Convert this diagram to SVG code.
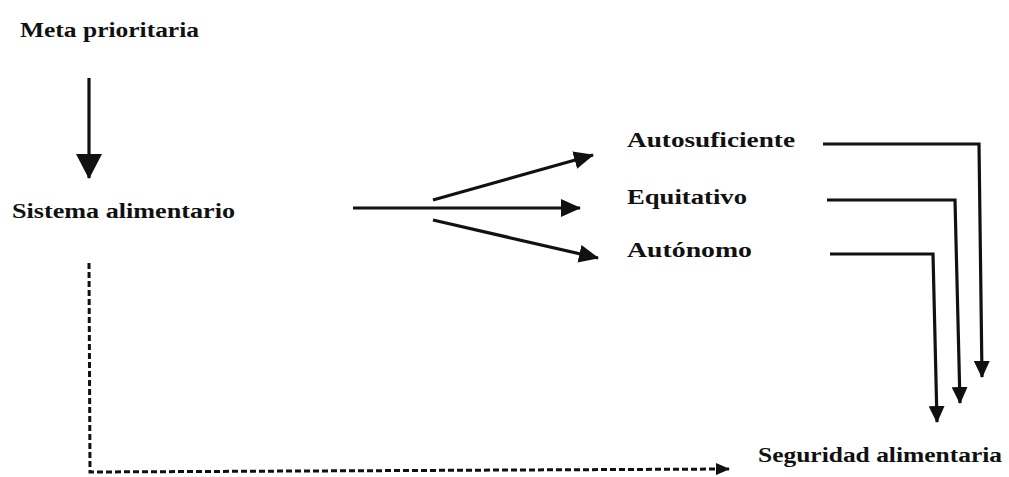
<svg xmlns="http://www.w3.org/2000/svg" width="1009" height="477" viewBox="0 0 1009 477">
  <style>
    .lbl { font-family: "Liberation Serif", "Times New Roman", serif; font-size: 20px; font-weight: bold; fill: #111; }
    .ln { fill: none; stroke: #111; stroke-width: 3.2; }
    .dash { fill: none; stroke: #111; stroke-width: 3; stroke-dasharray: 6 3; }
  </style>
  <defs>
    <marker id="headBig" markerUnits="userSpaceOnUse" viewBox="0 0 25 26" markerWidth="25" markerHeight="26" refX="24" refY="13" orient="auto">
      <path d="M0,0 L25,13 L0,26 Z" fill="#111"/>
    </marker>
    <marker id="headMid" markerUnits="userSpaceOnUse" viewBox="0 0 20 18" markerWidth="20" markerHeight="18" refX="19" refY="9" orient="auto">
      <path d="M0,0 L20,9 L0,18 Z" fill="#111"/>
    </marker>
    <marker id="headSm" markerUnits="userSpaceOnUse" viewBox="0 0 17 16" markerWidth="17" markerHeight="16" refX="16" refY="8" orient="auto">
      <path d="M0,0 L17,8 L0,16 Z" fill="#111"/>
    </marker>
    <marker id="headDash" markerUnits="userSpaceOnUse" viewBox="0 0 14 12" markerWidth="14" markerHeight="12" refX="13" refY="6" orient="auto">
      <path d="M0,0 L14,6 L0,12 Z" fill="#111"/>
    </marker>
  </defs>

  <g id="node-meta">
    <text class="lbl" x="20" y="37" textLength="179" lengthAdjust="spacingAndGlyphs">Meta prioritaria</text>
  </g>
  <g id="node-sistema">
    <text class="lbl" x="12" y="218" textLength="223" lengthAdjust="spacingAndGlyphs">Sistema alimentario</text>
  </g>
  <g id="node-autosuficiente">
    <text class="lbl" x="627" y="147" textLength="168" lengthAdjust="spacingAndGlyphs">Autosuficiente</text>
  </g>
  <g id="node-equitativo">
    <text class="lbl" x="627" y="204" textLength="120" lengthAdjust="spacingAndGlyphs">Equitativo</text>
  </g>
  <g id="node-autonomo">
    <text class="lbl" x="627" y="257" textLength="125" lengthAdjust="spacingAndGlyphs">Autónomo</text>
  </g>
  <g id="node-seguridad">
    <text class="lbl" x="758" y="462" textLength="244" lengthAdjust="spacingAndGlyphs">Seguridad alimentaria</text>
  </g>

  <g id="connectors">
    <line class="ln" x1="89" y1="78" x2="89" y2="178" marker-end="url(#headBig)"/>
    <line class="ln" x1="353" y1="208" x2="580" y2="208" marker-end="url(#headMid)"/>
    <line class="ln" x1="433" y1="200" x2="593" y2="155" marker-end="url(#headMid)"/>
    <line class="ln" x1="433" y1="220" x2="598" y2="258" marker-end="url(#headMid)"/>
    <polyline class="ln" points="823,144 979,144 982,377" marker-end="url(#headSm)"/>
    <polyline class="ln" points="827,200 955,200 960,403" marker-end="url(#headSm)"/>
    <polyline class="ln" points="830,254 933,254 937,422" marker-end="url(#headSm)"/>
    <polyline class="dash" points="89,263 90,472 729,469" marker-end="url(#headDash)"/>
  </g>
</svg>
